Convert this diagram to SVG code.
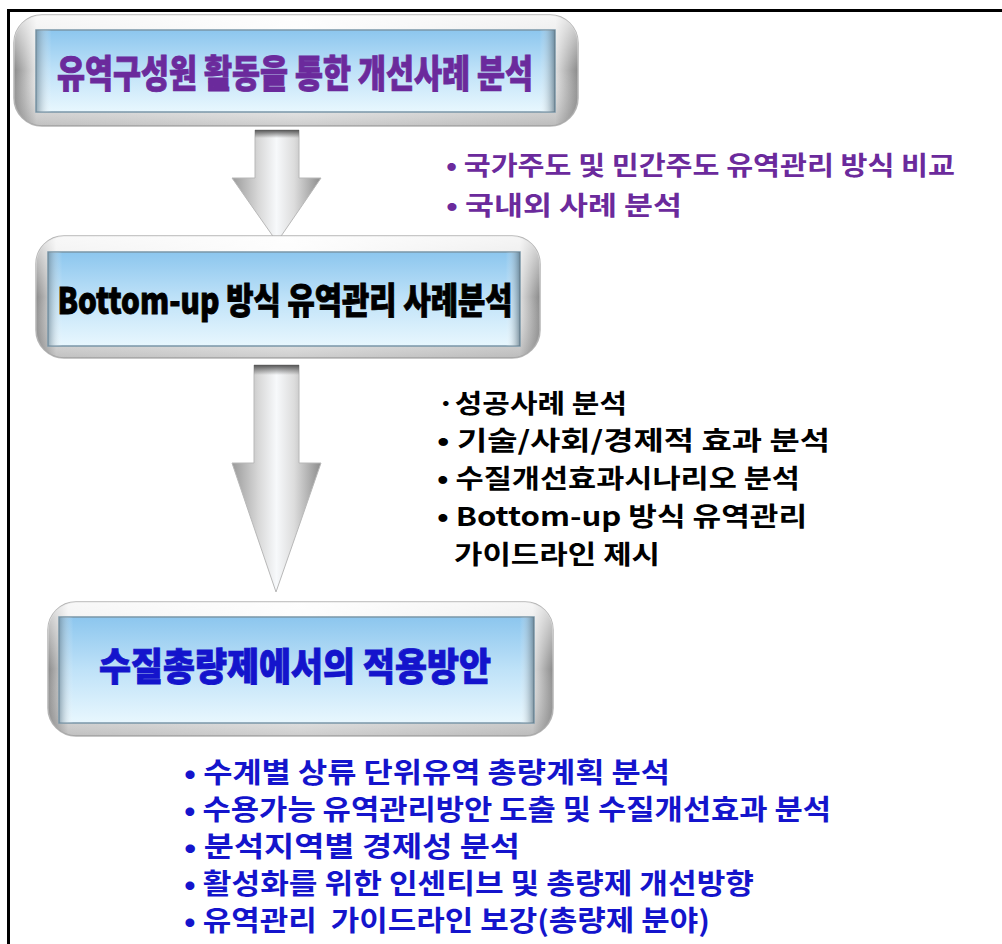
<svg xmlns="http://www.w3.org/2000/svg" width="1002" height="944" viewBox="0 0 1002 944">
<defs>
<linearGradient id="silver" x1="0" y1="0" x2="1" y2="0">
<stop offset="0" stop-color="#8a8a8a"/>
<stop offset="0.04" stop-color="#e8e8e8"/>
<stop offset="0.5" stop-color="#fbfbfb"/>
<stop offset="0.96" stop-color="#e0e0e0"/>
<stop offset="1" stop-color="#8a8a8a"/>
</linearGradient>
<linearGradient id="silverV" x1="0" y1="0" x2="0" y2="1">
<stop offset="0" stop-color="#ffffff" stop-opacity="0.7"/>
<stop offset="0.5" stop-color="#ffffff" stop-opacity="0"/>
<stop offset="1" stop-color="#777777" stop-opacity="0.35"/>
</linearGradient>
<linearGradient id="blue" x1="0" y1="0" x2="0" y2="1">
<stop offset="0" stop-color="#8cc6ee"/>
<stop offset="0.5" stop-color="#bfe2f8"/>
<stop offset="1" stop-color="#e8f7fe"/>
</linearGradient>
<linearGradient id="bevel" x1="0" y1="0" x2="1" y2="0">
<stop offset="0" stop-color="#6f8796" stop-opacity="0.7"/>
<stop offset="0.03" stop-color="#ffffff" stop-opacity="0"/>
<stop offset="0.97" stop-color="#ffffff" stop-opacity="0"/>
<stop offset="1" stop-color="#5d7482" stop-opacity="0.75"/>
</linearGradient>
<linearGradient id="arrowG" x1="0" y1="0" x2="1" y2="0">
<stop offset="0" stop-color="#9a9a9a"/>
<stop offset="0.3" stop-color="#d8d8d8"/>
<stop offset="0.5" stop-color="#f7f9fb"/>
<stop offset="0.7" stop-color="#dcdcdc"/>
<stop offset="1" stop-color="#8c8c8c"/>
</linearGradient>
<linearGradient id="capG" x1="0" y1="0" x2="0" y2="1">
<stop offset="0" stop-color="#555"/>
<stop offset="1" stop-color="#555" stop-opacity="0"/>
</linearGradient>
</defs>
<style>
.frame{fill:none;stroke:#000;stroke-width:3}
.outer{fill:url(#silver);stroke:#b5b5b5;stroke-width:1.5}
.shine{fill:url(#silverV)}
.inner{fill:url(#blue);stroke:#7a96a8;stroke-width:1.5}
.bev{fill:url(#bevel)}
.title{font-family:"Noto Sans CJK KR","Noto Sans",sans-serif;font-weight:900;text-anchor:middle;stroke-width:0.9}
.note{font-family:"Noto Sans CJK KR","Noto Sans",sans-serif;font-weight:700}
.arrow{fill:url(#arrowG);stroke:#b8b8b8;stroke-width:1}
</style>
<rect width="1002" height="944" fill="#fff"/>
<path class="frame" d="M1002,10.5 H8.5 V944"/>

<g id="connectors">
<polygon class="arrow" points="255,130 299,130 299,178 321,178 277,242 232,178 255,178"/>
<rect x="255" y="130" width="44" height="8" fill="url(#capG)"/>
<polygon class="arrow" points="254,365 299,365 299,463 321,463 276,592 232,463 254,463"/>
<rect x="254" y="365" width="45" height="10" fill="url(#capG)"/>
</g>

<g id="node1">
<rect class="outer" x="14" y="15" width="564" height="111" rx="28"/>
<rect class="shine" x="14" y="15" width="564" height="111" rx="28"/>
<rect class="inner" x="36" y="30" width="519" height="82"/>
<rect class="bev" x="36" y="30" width="519" height="82"/>
<text class="title" x="295" y="87" font-size="38" fill="#6b2a9c" stroke="#6b2a9c" textLength="476" lengthAdjust="spacingAndGlyphs">유역구성원 활동을 통한 개선사례 분석</text>
</g>

<g id="node2">
<rect class="outer" x="36" y="236" width="504" height="122" rx="28"/>
<rect class="shine" x="36" y="236" width="504" height="122" rx="28"/>
<rect class="inner" x="48" y="252" width="472" height="94"/>
<rect class="bev" x="48" y="252" width="472" height="94"/>
<text class="title" x="285" y="314" font-size="36" fill="#000" stroke="#000" textLength="455" lengthAdjust="spacingAndGlyphs">Bottom-up 방식 유역관리 사례분석</text>
</g>

<g id="node3">
<rect class="outer" x="48" y="602" width="505" height="134" rx="28"/>
<rect class="shine" x="48" y="602" width="505" height="134" rx="28"/>
<rect class="inner" x="59" y="617" width="475" height="106"/>
<rect class="bev" x="59" y="617" width="475" height="106"/>
<text class="title" x="295" y="680" font-size="38" fill="#1414cc" stroke="#1414cc" textLength="392" lengthAdjust="spacingAndGlyphs">수질총량제에서의 적용방안</text>
</g>

<g id="notes1" class="note" fill="#6b2a9c" font-size="26">
<text x="446" y="175" textLength="509" lengthAdjust="spacingAndGlyphs">• 국가주도 및 민간주도 유역관리 방식 비교</text>
<text x="446" y="215" textLength="236" lengthAdjust="spacingAndGlyphs">• 국내외 사례 분석</text>
</g>

<g id="notes2" class="note" fill="#000" font-size="26">
<text x="437" y="413" textLength="190" lengthAdjust="spacingAndGlyphs">·성공사례 분석</text>
<text x="437" y="450" textLength="393" lengthAdjust="spacingAndGlyphs">• 기술/사회/경제적 효과 분석</text>
<text x="437" y="488" textLength="363" lengthAdjust="spacingAndGlyphs">• 수질개선효과시나리오 분석</text>
<text x="437" y="526" textLength="370" lengthAdjust="spacingAndGlyphs">• Bottom-up 방식 유역관리</text>
<text x="454" y="564" textLength="206" lengthAdjust="spacingAndGlyphs">가이드라인 제시</text>
</g>

<g id="notes3" class="note" fill="#1414cc" font-size="28">
<text x="184" y="783" textLength="486" lengthAdjust="spacingAndGlyphs">• 수계별 상류 단위유역 총량계획 분석</text>
<text x="184" y="820" textLength="647" lengthAdjust="spacingAndGlyphs">• 수용가능 유역관리방안 도출 및 수질개선효과 분석</text>
<text x="184" y="857" textLength="336" lengthAdjust="spacingAndGlyphs">• 분석지역별 경제성 분석</text>
<text x="184" y="894" textLength="570" lengthAdjust="spacingAndGlyphs">• 활성화를 위한 인센티브 및 총량제 개선방향</text>
<text x="184" y="931" textLength="526" lengthAdjust="spacingAndGlyphs" xml:space="preserve">• 유역관리  가이드라인 보강(총량제 분야)</text>
</g>
</svg>
